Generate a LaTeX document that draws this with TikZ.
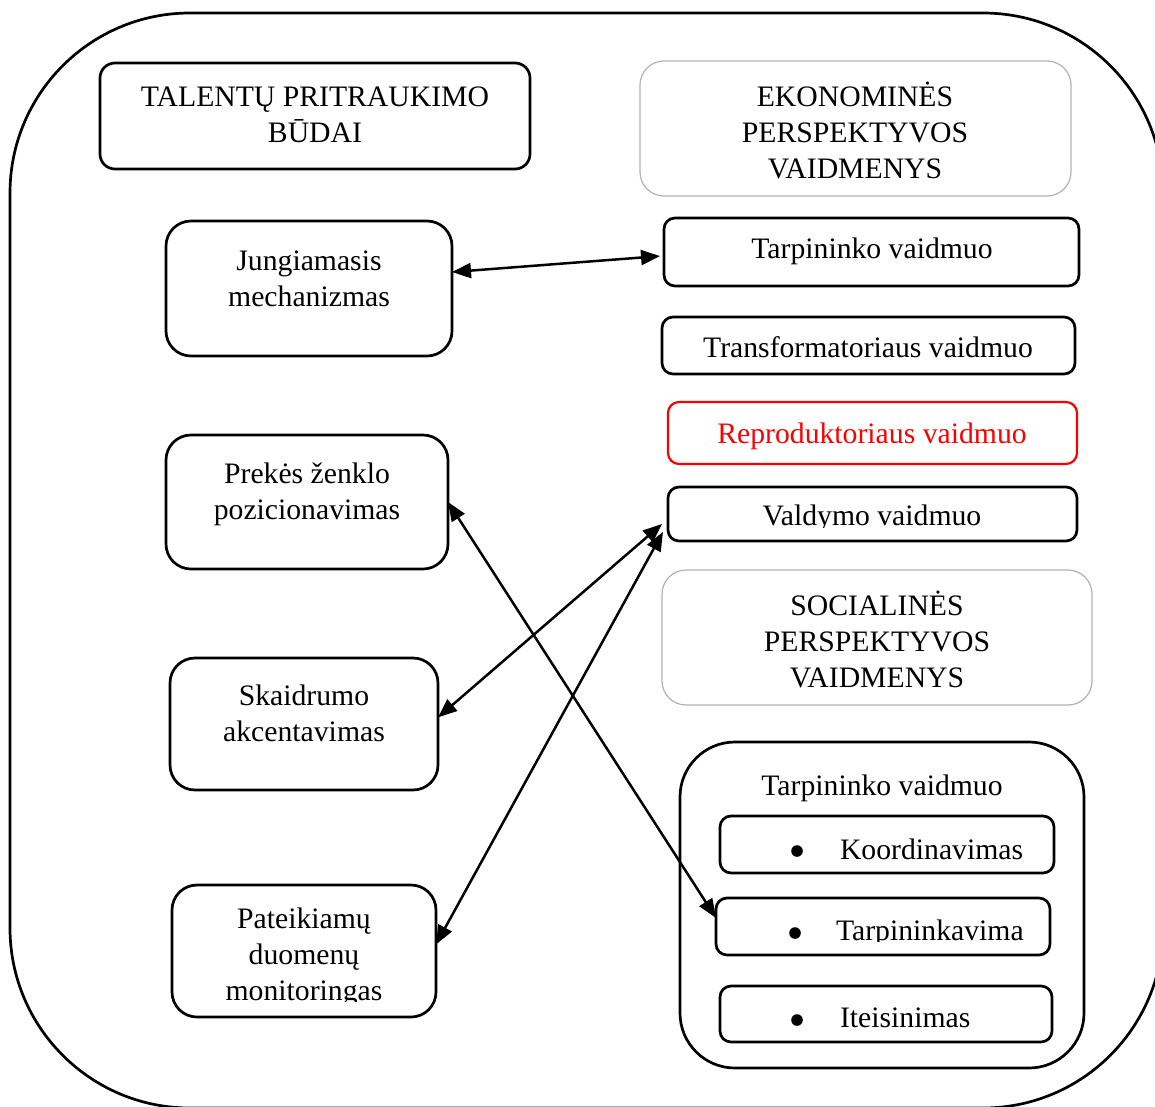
\documentclass[tikz,border=0pt]{standalone}
\usepackage{fontspec}
\setmainfont{Liberation Serif}
\usetikzlibrary{arrows.meta,calc,fit}
\definecolor{softgray}{RGB}{178,178,178}
\definecolor{rolered}{RGB}{250,0,0}
% centred lines whose baseline is the first line's
\newcommand{\mlines}[1]{\begin{tabular}[t]{@{}c@{}}#1\end{tabular}}
\begin{document}
\begin{tikzpicture}[x=1pt,y=-1pt,
  every node/.style={inner sep=0pt,outer sep=0pt},
  box/.style={draw=black,line width=2.7pt,rounded corners=#1},
  box/.default=11pt,
  softbox/.style={draw=softgray,line width=1.2pt,rounded corners=24pt},
  txt/.style={font=\fontsize{29.7}{36}\selectfont,anchor=base},
  itemtxt/.style={font=\fontsize{29.7}{36}\selectfont,anchor=base west},
  link/.style={line width=2.5pt,
    {Triangle[length=19pt,width=15pt]}-{Triangle[length=19pt,width=15pt]}}
]
\useasboundingbox (0,0) rectangle (1155,1106);
\clip (0,0) rectangle (1155,1106);

% outer frame
\node[box=180pt,fit={(10,13) (1163,1108)}] (frame) {};

% left column: ways of attracting talent
\node[box=15pt,fit={(100,63) (530,169)}] (tal) {};
\node[txt] (taltxt) at (315,106) {\mlines{TALENTŲ PRITRAUKIMO\\BŪDAI}};

\node[box=25pt,fit={(166,221) (452,356)}] (jung) {};
\node[txt] (jungtxt) at (309,270) {\mlines{Jungiamasis\\mechanizmas}};

\node[box=25pt,fit={(166,435) (448,569)}] (prek) {};
\node[txt] (prektxt) at (307,483) {\mlines{Prekės ženklo\\pozicionavimas}};

\node[box=25pt,fit={(170,658) (438,790)}] (skaid) {};
\node[txt] (skaidtxt) at (304,705) {\mlines{Skaidrumo\\akcentavimas}};

\node[box=25pt,fit={(172,885) (436,1017)}] (pat) {};
\begin{scope}
  \clip (172,885) rectangle (436,1001.5);
  \node[txt] (pattxt) at (304,928) {\mlines{Pateikiamų\\duomenų\\monitoringas}};
\end{scope}

% right column: economic perspective roles
\node[softbox,fit={(640,61) (1071,196)}] (eko) {};
\node[txt] (ekotxt) at (855,106) {\mlines{EKONOMINĖS\\PERSPEKTYVOS\\VAIDMENYS}};

\node[box,fit={(664,218) (1079,286)}] (tarp) {};
\node[txt] (tarptxt) at (872,258) {Tarpininko vaidmuo};

\node[box,fit={(662,317) (1075,374)}] (trans) {};
\node[txt] (transtxt) at (868,357) {Transformatoriaus vaidmuo};

\node[box,draw=rolered,line width=2.2pt,fit={(668,402) (1077,464)}] (repr) {};
\node[txt,text=rolered] (reprtxt) at (872,443) {Reproduktoriaus vaidmuo};

\node[box,fit={(668,487) (1077,541)}] (vald) {};
\begin{scope}
  \clip (668,487) rectangle (1077,527);
  \node[txt] (valdtxt) at (872,525) {Valdymo vaidmuo};
\end{scope}

% social perspective roles
\node[softbox,fit={(662,570) (1092,705)}] (soc) {};
\node[txt] (soctxt) at (877,615) {\mlines{SOCIALINĖS\\PERSPEKTYVOS\\VAIDMENYS}};

\node[box=55pt,fit={(680,742) (1084,1068)}] (cont) {};
\node[txt] (conttxt) at (882,795) {Tarpininko vaidmuo};

\node[box,fit={(720,816) (1054,873)}] (koord) {};
\fill (797,851) circle (5.8);
\node[itemtxt] (koordtxt) at (840,859) {Koordinavimas};

\node[box,fit={(716,898) (1050,955)}] (tarpk) {};
\fill (795,933) circle (5.8);
\begin{scope}
  \clip (716,898) rectangle (1050,941.5);
  \node[itemtxt] (tarpktxt) at (836,940) {Tarpininkavima};
\end{scope}

\node[box,fit={(720,986) (1052,1042)}] (iteis) {};
\fill (797,1020) circle (5.8);
\node[itemtxt] (iteistxt) at (840,1027) {Iteisinimas};

% two-way links
\draw[link] ($(jung.north east)!0.378!(jung.south east)$)
  -- ([xshift=-4pt]$(tarp.north west)!0.56!(tarp.south west)$);
\draw[link] (prek.east)
  -- ($(tarpk.north west)!0.35!(tarpk.south west)$);
\draw[link] ($(skaid.north east)!0.45!(skaid.south east)$)
  -- ([xshift=-6pt]$(vald.north west)!0.685!(vald.south west)$);
\draw[link] ($(pat.north east)!0.45!(pat.south east)$)
  -- ([xshift=-5pt]$(vald.north west)!0.83!(vald.south west)$);
\end{tikzpicture}
\end{document}
